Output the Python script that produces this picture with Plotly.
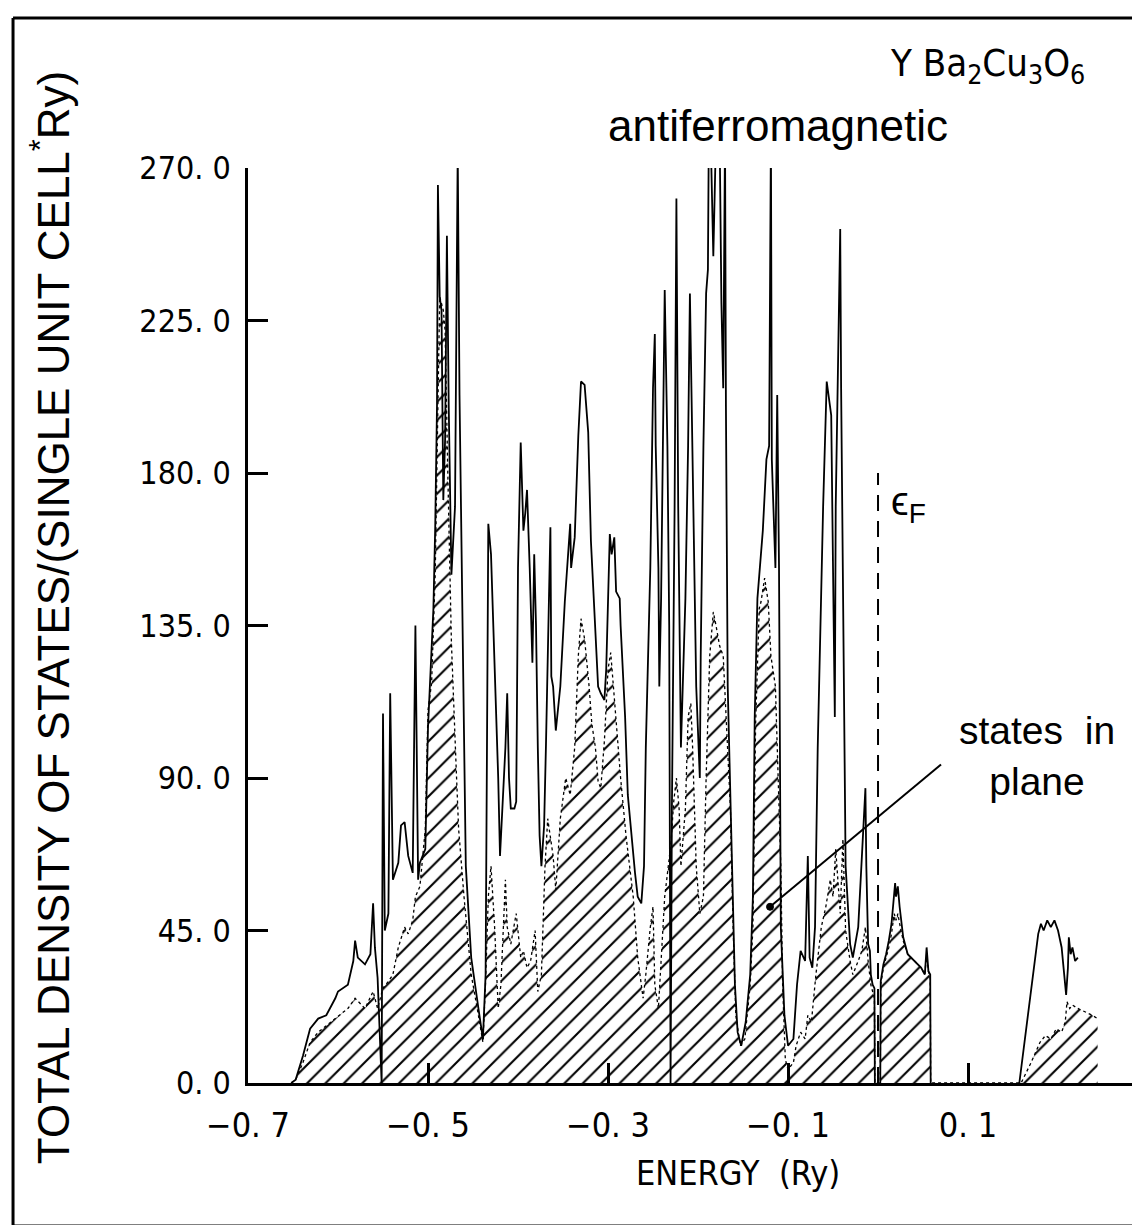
import plotly.graph_objects as go

# ---------------- data ----------------
energy_total = [
    -0.652, -0.647, -0.639, -0.631, -0.622, -0.613, -0.603, -0.600, -0.589, -0.583,
    -0.581, -0.578, -0.570, -0.564, -0.561, -0.559, -0.556, -0.5515, -0.550, -0.548,
    -0.544, -0.542, -0.539, -0.533, -0.530, -0.526, -0.522, -0.517, -0.514, -0.511,
    -0.509, -0.503, -0.500, -0.498, -0.494, -0.492, -0.490, -0.489, -0.487, -0.485,
    -0.483, -0.481, -0.479, -0.477, -0.474, -0.470, -0.467, -0.465, -0.463, -0.460,
    -0.458, -0.452, -0.444, -0.439, -0.436, -0.433, -0.430, -0.426, -0.422, -0.420,
    -0.414, -0.412, -0.410, -0.408, -0.404, -0.402, -0.400, -0.397, -0.394, -0.392,
    -0.390, -0.387, -0.384, -0.382, -0.380, -0.378, -0.376, -0.374, -0.371, -0.369,
    -0.364, -0.363, -0.361, -0.358, -0.353, -0.348, -0.342, -0.341, -0.337, -0.333,
    -0.330, -0.326, -0.322, -0.319, -0.314, -0.311, -0.308, -0.304, -0.302, -0.300,
    -0.298, -0.296, -0.293, -0.291, -0.287, -0.286, -0.281, -0.278, -0.274, -0.270,
    -0.267, -0.263, -0.260, -0.258, -0.253, -0.250, -0.248, -0.247, -0.244, -0.243,
    -0.241, -0.239, -0.237, -0.234, -0.232, -0.2305, -0.229, -0.226, -0.224, -0.222,
    -0.220, -0.219, -0.214, -0.211, -0.209, -0.207, -0.204, -0.202, -0.198, -0.197,
    -0.194, -0.192, -0.191, -0.189, -0.188, -0.186, -0.183, -0.180, -0.176, -0.174,
    -0.172, -0.170, -0.169, -0.167, -0.164, -0.162, -0.159, -0.156, -0.152, -0.147,
    -0.142, -0.139, -0.137, -0.134, -0.131, -0.128, -0.124, -0.121, -0.119, -0.118,
    -0.114, -0.112, -0.110, -0.109, -0.108, -0.104, -0.100, -0.094, -0.090, -0.086,
    -0.081, -0.078, -0.076, -0.073, -0.070, -0.067, -0.061, -0.057, -0.052, -0.050,
    -0.048, -0.047, -0.044, -0.042, -0.041, -0.038, -0.036, -0.031, -0.028, -0.022,
    -0.017, -0.014, -0.013, -0.011, -0.009, -0.008, -0.006, -0.004, -0.0035, None,
    0.0025, 0.003, 0.006, 0.009, 0.012, 0.015, 0.018, 0.019, 0.020, 0.022,
    0.024, 0.028, 0.033, 0.041, 0.048, 0.052, 0.054, 0.056, 0.058, 0.0585,
    None, 0.157, 0.178, 0.181, 0.184, 0.188, 0.192, 0.196, 0.200, 0.204,
    0.207, 0.209, 0.211, 0.212, 0.214, 0.216, 0.219, 0.222,
]
dos_total = [
    0, 1, 8, 16, 19, 20, 25, 27, 29, 36,
    42, 37, 35, 38, 53, 40, 31, 0, 109, 45,
    50, 115, 60, 65, 76, 77, 67, 62, 135, 60,
    65, 69, 105, 118, 140, 164, 200, 265, 232, 228,
    172, 190, 250, 200, 150, 170, 275, 203, 156, 103,
    64, 37, 22, 13, 32, 165, 156, 126, 90, 67,
    99, 115, 90, 81, 81, 83, 152, 189, 163, 168,
    175, 152, 124, 156, 135, 99, 73, 64, 76, 99,
    164, 120, 117, 104, 117, 142, 165, 152, 161, 191,
    207, 206, 192, 160, 130, 117, 115, 113, 122, 143,
    162, 156, 161, 145, 143, 135, 108, 85, 73, 62,
    55, 53, 64, 99, 152, 205, 221, 188, 152, 117,
    143, 197, 234, 188, 135, 0, 81, 170, 261, 170,
    117, 99, 143, 188, 233, 197, 152, 117, 90, 126,
    188, 223, 233, 240, 280, 280, 244, 280, 280, 230,
    205, 280, 200, 117, 81, 55, 29, 15, 11, 18,
    32, 55, 108, 143, 152, 163, 184, 188, 280, 184,
    152, 203, 152, 99, 46, 20, 11, 13, 29, 39,
    36, 67, 37, 34, 46, 99, 170, 207, 197, 152,
    108, 170, 223, 252, 205, 117, 64, 41, 37, 46,
    73, 87, 64, 41, 39, 32, 29, 28, 0, None,
    0, 30, 35, 38, 42, 47, 56, 59, 55, 58,
    52, 43, 38, 36, 34, 32, 40, 33, 32, 0,
    None, 0, 44, 47, 45, 48, 46, 48, 45, 40,
    30, 26, 34, 43, 38, 40, 36, 37,
]

energy_plane = [
    -0.652, -0.647, -0.639, -0.631, -0.622, -0.613, -0.603, -0.589, -0.581, -0.570,
    -0.561, -0.556, -0.550, -0.544, -0.539, -0.533, -0.526, -0.522, -0.517, -0.514,
    -0.509, -0.503, -0.500, -0.496, -0.492, -0.489, -0.487, -0.483, -0.481, -0.478,
    -0.474, -0.469, -0.466, -0.460, -0.452, -0.444, -0.439, -0.436, -0.433, -0.430,
    -0.426, -0.422, -0.419, -0.414, -0.412, -0.408, -0.402, -0.397, -0.394, -0.390,
    -0.386, -0.381, -0.378, -0.374, -0.370, -0.367, -0.361, -0.358, -0.353, -0.347,
    -0.342, -0.337, -0.333, -0.330, -0.326, -0.321, -0.318, -0.314, -0.311, -0.308,
    -0.304, -0.300, -0.297, -0.294, -0.291, -0.286, -0.280, -0.276, -0.272, -0.267,
    -0.261, -0.258, -0.253, -0.250, -0.248, -0.244, -0.241, -0.237, -0.233, -0.230,
    -0.227, -0.224, -0.221, -0.219, -0.214, -0.211, -0.208, -0.206, -0.202, -0.198,
    -0.194, -0.191, -0.187, -0.183, -0.180, -0.176, -0.172, -0.169, -0.164, -0.161,
    -0.158, -0.153, -0.148, -0.142, -0.139, -0.136, -0.132, -0.130, -0.126, -0.122,
    -0.119, -0.114, -0.110, -0.108, -0.106, -0.103, -0.100, -0.094, -0.091, -0.086,
    -0.081, -0.078, -0.074, -0.069, -0.063, -0.058, -0.053, -0.050, -0.047, -0.042,
    -0.039, -0.036, -0.031, -0.028, -0.022, -0.018, -0.014, -0.011, -0.008, -0.004,
    -0.0035, 0.0025, 0.003, 0.006, 0.009, 0.012, 0.015, 0.018, 0.020, 0.022,
    0.024, 0.028, 0.033, 0.041, 0.048, 0.052, 0.054, 0.056, 0.058, 0.0585,
    0.159, 0.170, 0.180, 0.186, 0.192, 0.198, 0.204, 0.208, 0.210, 0.213,
    0.216, 0.222, 0.230, 0.238, 0.244,
]
dos_plane = [
    0, 1, 6, 12, 15, 17, 19, 22, 25, 22,
    27, 22, 28, 30, 32, 40, 46, 44, 48, 55,
    58, 75, 110, 118, 150, 200, 232, 228, 222, 180,
    130, 95, 75, 55, 32, 20, 12, 30, 55, 64,
    46, 22, 29, 60, 46, 41, 50, 37, 39, 34,
    36, 45, 27, 32, 64, 78, 67, 57, 78, 90,
    85, 99, 126, 137, 131, 117, 106, 99, 89, 87,
    101, 122, 127, 117, 106, 90, 73, 64, 55, 37,
    25, 32, 46, 52, 29, 22, 37, 55, 64, 71,
    83, 90, 81, 64, 81, 108, 112, 99, 64, 50,
    55, 90, 126, 139, 135, 129, 126, 108, 81, 46,
    20, 11, 13, 29, 46, 106, 140, 142, 149, 142,
    126, 117, 80, 64, 29, 7, 4, 6, 11, 15,
    13, 20, 18, 32, 46, 52, 60, 55, 69, 50,
    72, 45, 36, 32, 36, 39, 46, 36, 29, 25,
    0, 0, 29, 34, 37, 40, 44, 50, 48, 50,
    47, 42, 38, 36, 34, 32, 38, 33, 31, 0,
    0, 6, 12, 14, 13, 16, 15, 18, 24, 22,
    23, 22, 21, 20, 19,
]

x_tick_values = [-0.7, -0.5, -0.3, -0.1, 0.1]
x_tick_labels = ["\u22120. 7", "\u22120. 5", "\u22120. 3", "\u22120. 1", "0. 1"]
y_tick_values = [0, 45, 90, 135, 180, 225, 270]
y_tick_labels = ["0. 0", "45. 0", "90. 0", "135. 0", "180. 0", "225. 0", "270. 0"]

fermi_energy = 0.0
fermi_line_top = 180

NARROW = "Liberation Sans Narrow, Arial Narrow, DejaVu Sans Condensed, sans-serif"
SANS = "Liberation Sans, Arial, Helvetica, sans-serif"

fig = go.Figure()

# states in plane: dotted curve, hatched area underneath
fig.add_trace(go.Scatter(
    x=energy_plane, y=dos_plane, mode="lines",
    line=dict(color="black", width=1.3, dash="dot"),
    fill="tozeroy", fillcolor="rgba(0,0,0,0)",
    fillpattern=dict(shape="/", fgcolor="black", bgcolor="white",
                     size=13, solidity=0.16, fillmode="replace"),
    hoverinfo="skip",
))

# total density of states: solid curve
fig.add_trace(go.Scatter(
    x=energy_total, y=dos_total, mode="lines",
    line=dict(color="black", width=1.8),
    connectgaps=False,
    hoverinfo="skip",
))

fig.update_layout(
    width=1140, height=1225,
    margin=dict(l=240, r=15, t=160, b=150),
    paper_bgcolor="white", plot_bgcolor="white",
    showlegend=False,
)

fig.update_xaxes(
    range=[-0.7, 0.2833], showgrid=False, zeroline=False,
    showline=True, linecolor="black", linewidth=2.5,
    ticks="inside", ticklen=20, tickwidth=2.5, tickcolor="black",
    tickvals=x_tick_values, ticktext=x_tick_labels,
    tickfont=dict(family=NARROW, size=34, color="black"),
    ticklabelstandoff=10,
)
fig.update_yaxes(
    range=[0, 270], showgrid=False, zeroline=False,
    showline=True, linecolor="black", linewidth=2.5,
    ticks="inside", ticklen=20, tickwidth=2.5, tickcolor="black",
    tickvals=y_tick_values, ticktext=y_tick_labels,
    tickfont=dict(family=NARROW, size=32, color="black"),
    ticklabelstandoff=8,
)

# Fermi level
fig.add_shape(type="line", xref="x", yref="y",
              x0=fermi_energy, x1=fermi_energy, y0=0, y1=fermi_line_top,
              line=dict(color="black", width=2, dash="16px,10px"))

# leader line for "states in plane"
fig.add_shape(type="line", xref="x", yref="y",
              x0=-0.120, y0=52, x1=0.070, y1=94,
              line=dict(color="black", width=2))
fig.add_shape(type="circle", xref="x", yref="y", xsizemode="pixel", ysizemode="pixel",
              xanchor=-0.120, yanchor=52, x0=-3.5, x1=3.5, y0=-3.5, y1=3.5,
              fillcolor="black", line=dict(color="black", width=1))

# outer frame of the figure
frame = dict(color="black", width=3)
fig.add_shape(type="line", xref="paper", yref="paper", x0=-0.2655, x1=-0.2655, y0=-0.1563, y1=1.1639, line=frame)
fig.add_shape(type="line", xref="paper", yref="paper", x0=-0.2655, x1=1.03, y0=1.1639, y1=1.1639, line=frame)
fig.add_shape(type="line", xref="paper", yref="paper", x0=-0.2655, x1=1.03, y0=-0.1563, y1=-0.1563, line=frame)

# texts
fig.add_annotation(xref="paper", yref="paper", x=-0.2237, y=0.508,
                   text="TOTAL DENSITY OF STATES/(SINGLE UNIT CELL<sup>*</sup>Ry)",
                   textangle=-90, showarrow=False, xanchor="center", yanchor="middle",
                   font=dict(family=SANS, size=44, color="black"))
fig.add_annotation(xref="paper", yref="paper", x=0.554, y=-0.098,
                   text="ENERGY  (Ry)", showarrow=False,
                   xanchor="center", yanchor="middle",
                   font=dict(family=NARROW, size=34, color="black"))
fig.add_annotation(xref="paper", yref="paper", x=0.836, y=1.112,
                   text="Y Ba<sub>2</sub>Cu<sub>3</sub>O<sub>6</sub>", showarrow=False,
                   xanchor="center", yanchor="middle",
                   font=dict(family=NARROW, size=38, color="black"))
fig.add_annotation(xref="paper", yref="paper", x=0.599, y=1.046,
                   text="antiferromagnetic", showarrow=False,
                   xanchor="center", yanchor="middle",
                   font=dict(family=SANS, size=44, color="black"))
fig.add_annotation(xref="x", yref="y", x=0.012, y=171,
                   text="\u03f5<sub>F</sub>", showarrow=False,
                   xanchor="left", yanchor="middle",
                   font=dict(family=SANS, size=40, color="black"))
fig.add_annotation(xref="paper", yref="paper", x=0.891, y=0.357,
                   text="states  in<br>plane", showarrow=False,
                   xanchor="center", yanchor="middle", align="center",
                   font=dict(family=SANS, size=39, color="black"))

fig.write_html("out.html")
